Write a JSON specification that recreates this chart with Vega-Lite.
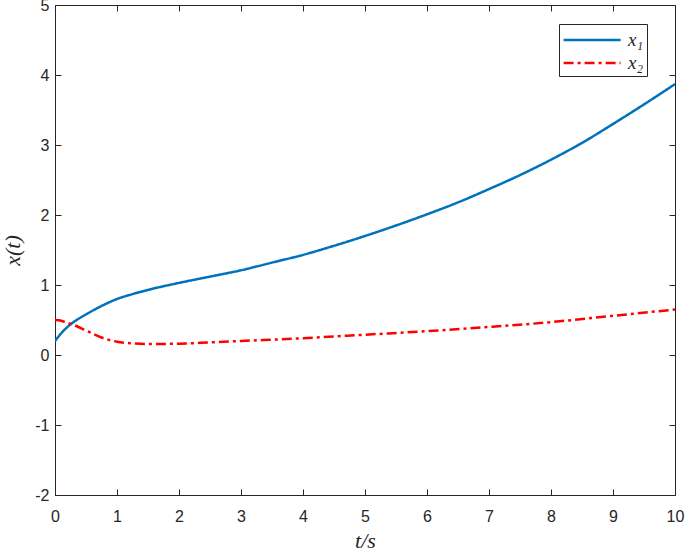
{
  "$schema": "https://vega.github.io/schema/vega-lite/v6.json",
  "width": 620,
  "height": 490,
  "padding": {"left": 55, "top": 5, "right": 10, "bottom": 58},
  "autosize": {"type": "none"},
  "background": "white",
  "config": {
    "view": {"stroke": "#262626", "strokeWidth": 1},
    "axis": {
      "grid": false,
      "domainColor": "#262626",
      "tickColor": "#262626",
      "labelColor": "#262626",
      "labelFont": "Liberation Sans",
      "labelFontSize": 16,
      "labelFlush": false,
      "labelOverlap": false,
      "titleFont": "Liberation Serif",
      "titleFontStyle": "italic",
      "titleFontWeight": "normal",
      "titleFontSize": 22,
      "titleColor": "#262626",
      "tickSize": -6
    }
  },
  "data": {
    "values": [
      {"t": 0, "v": 0.2, "s": "x₁"},
      {"t": 0.1, "v": 0.31, "s": "x₁"},
      {"t": 0.2, "v": 0.4, "s": "x₁"},
      {"t": 0.3, "v": 0.47, "s": "x₁"},
      {"t": 0.5, "v": 0.58, "s": "x₁"},
      {"t": 0.75, "v": 0.7, "s": "x₁"},
      {"t": 1, "v": 0.8, "s": "x₁"},
      {"t": 1.25, "v": 0.87, "s": "x₁"},
      {"t": 1.5, "v": 0.93, "s": "x₁"},
      {"t": 2, "v": 1.03, "s": "x₁"},
      {"t": 2.5, "v": 1.12, "s": "x₁"},
      {"t": 3, "v": 1.21, "s": "x₁"},
      {"t": 3.5, "v": 1.32, "s": "x₁"},
      {"t": 4, "v": 1.43, "s": "x₁"},
      {"t": 4.5, "v": 1.56, "s": "x₁"},
      {"t": 5, "v": 1.7, "s": "x₁"},
      {"t": 5.5, "v": 1.85, "s": "x₁"},
      {"t": 6, "v": 2.01, "s": "x₁"},
      {"t": 6.5, "v": 2.18, "s": "x₁"},
      {"t": 7, "v": 2.37, "s": "x₁"},
      {"t": 7.5, "v": 2.57, "s": "x₁"},
      {"t": 8, "v": 2.79, "s": "x₁"},
      {"t": 8.5, "v": 3.03, "s": "x₁"},
      {"t": 9, "v": 3.3, "s": "x₁"},
      {"t": 9.5, "v": 3.58, "s": "x₁"},
      {"t": 10, "v": 3.87, "s": "x₁"},
      {"t": 0, "v": 0.5, "s": "x₂"},
      {"t": 0.1, "v": 0.49, "s": "x₂"},
      {"t": 0.2, "v": 0.46, "s": "x₂"},
      {"t": 0.3, "v": 0.43, "s": "x₂"},
      {"t": 0.5, "v": 0.35, "s": "x₂"},
      {"t": 0.75, "v": 0.25, "s": "x₂"},
      {"t": 1, "v": 0.19, "s": "x₂"},
      {"t": 1.25, "v": 0.165, "s": "x₂"},
      {"t": 1.5, "v": 0.157, "s": "x₂"},
      {"t": 2, "v": 0.162, "s": "x₂"},
      {"t": 2.5, "v": 0.18, "s": "x₂"},
      {"t": 3, "v": 0.2, "s": "x₂"},
      {"t": 4, "v": 0.24, "s": "x₂"},
      {"t": 5, "v": 0.29, "s": "x₂"},
      {"t": 6, "v": 0.34, "s": "x₂"},
      {"t": 7, "v": 0.4, "s": "x₂"},
      {"t": 8, "v": 0.47, "s": "x₂"},
      {"t": 9, "v": 0.56, "s": "x₂"},
      {"t": 10, "v": 0.65, "s": "x₂"}
    ]
  },
  "layer": [
    {
      "mark": {"type": "line", "strokeWidth": 2.5, "interpolate": "monotone", "clip": true},
      "encoding": {
        "x": {"field": "t", "type": "quantitative", "scale": {"domain": [0, 10], "nice": false},
          "axis": {"title": "t/s", "tickCount": 10, "labelPadding": 19, "titlePadding": 6}},
        "y": {"field": "v", "type": "quantitative", "scale": {"domain": [-2, 5], "nice": false},
          "axis": {"title": "x(t)", "tickCount": 7, "labelPadding": 12, "titlePadding": 10,
            "labelExpr": "replace(datum.label, '−', '-')"}},
        "color": {"field": "s", "type": "nominal",
          "scale": {"domain": ["x₁", "x₂"], "range": ["#0072BD", "#FF0000"]},
          "legend": {
            "title": null, "orient": "none", "legendX": 504, "legendY": 19,
            "symbolType": "M-1,0H4", "symbolSize": 520, "symbolStrokeWidth": 2.5,
            "labelFont": "Liberation Serif", "labelFontStyle": "italic", "labelFontSize": 19,
            "labelColor": "#262626",
            "strokeColor": "#262626", "fillColor": "white", "padding": 3,
            "rowPadding": 0, "labelOffset": 40
          }},
        "strokeDash": {"field": "s", "type": "nominal",
          "scale": {"domain": ["x₁", "x₂"], "range": [[1, 0], [10, 4, 3, 4]]},
          "legend": null}
      }
    },
    {
      "mark": {"type": "line", "opacity": 0},
      "encoding": {
        "x": {"field": "t", "type": "quantitative", "scale": {"domain": [0, 10], "nice": false},
          "axis": {"orient": "top", "title": null, "labels": false, "domain": false, "tickCount": 10}},
        "y": {"field": "v", "type": "quantitative", "scale": {"domain": [-2, 5], "nice": false},
          "axis": {"orient": "right", "title": null, "labels": false, "domain": false, "tickCount": 7}},
        "detail": {"field": "s"}
      }
    }
  ],
  "resolve": {"axis": {"x": "independent", "y": "independent"}}
}
